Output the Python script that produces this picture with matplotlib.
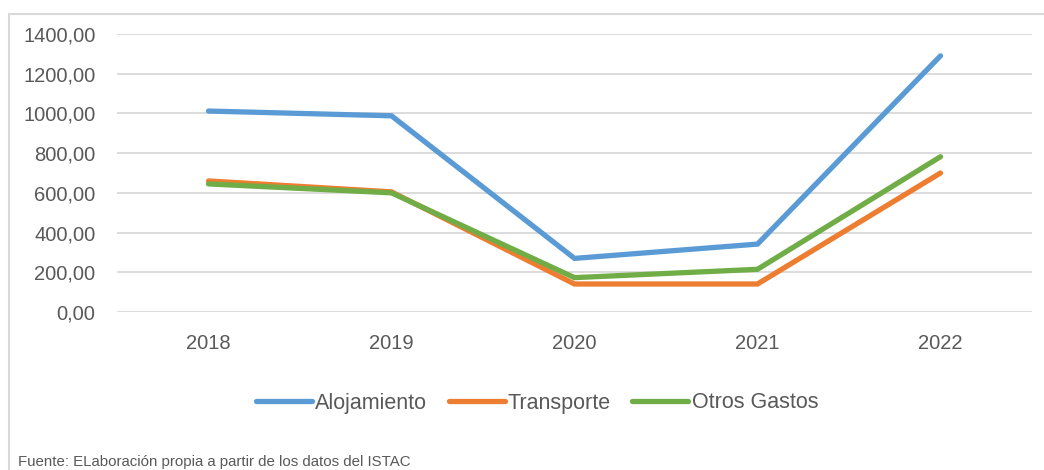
import matplotlib.pyplot as plt
from matplotlib.patches import Rectangle

years = ['2018', '2019', '2020', '2021', '2022']
alojamiento = [1012, 988, 270, 342, 1290]
transporte = [660, 605, 141, 141, 700]
otros_gastos = [645, 600, 173, 215, 782]
yticks = [0, 200, 400, 600, 800, 1000, 1200, 1400]

plt.rcParams['font.family'] = ['Liberation Sans', 'DejaVu Sans']
txt = '#595959'
grid = '#d9d9d9'

fig = plt.figure(figsize=(10.44, 4.7), dpi=100)
ax = fig.add_axes([117/1044, 1 - 312/470, (1032 - 117)/1044, (312 - 34)/470])

x = range(len(years))
ax.plot(x, alojamiento, color='#5B9BD5', lw=3.8, solid_capstyle='round', solid_joinstyle='miter', label='Alojamiento', zorder=3)
ax.plot(x, transporte, color='#ED7D31', lw=3.8, solid_capstyle='round', solid_joinstyle='miter', label='Transporte', zorder=3)
ax.plot(x, otros_gastos, color='#70AD47', lw=3.8, solid_capstyle='round', solid_joinstyle='miter', label='Otros Gastos', zorder=3)

ax.set_xlim(-0.5, len(years) - 0.5)
ax.set_ylim(0, 1400)
ax.set_xticks(list(x))
ax.set_xticklabels(years)
ax.set_yticks(yticks)
ax.set_yticklabels([f'{v:.2f}'.replace('.', ',') for v in yticks])
ax.tick_params(length=0, labelsize=14.5, labelcolor=txt)
ax.tick_params(axis='y', pad=15.5)
ax.tick_params(axis='x', pad=16)
for s in ax.spines.values():
    s.set_visible(False)
ax.grid(axis='y', color=grid, lw=1.3)
ax.set_axisbelow(True)

fig.legend(loc='center', bbox_to_anchor=(537/1044, 1 - 403/470), ncol=3, frameon=False,
           fontsize=15.5, labelcolor=txt, handlelength=2.6, handletextpad=0.15, columnspacing=1.0)

# chart frame
fig.patches.append(Rectangle((9/1044, -0.05), 1.1, 1 - 14/470 + 0.05, transform=fig.transFigure,
                             fill=False, edgecolor=grid, lw=1.5))

fig.text(18/1044, 1 - 462/470, 'Fuente: ELaboración propia a partir de los datos del ISTAC',
         fontsize=10.8, color=txt, va='center')

fig.savefig('out.png', dpi=100)
